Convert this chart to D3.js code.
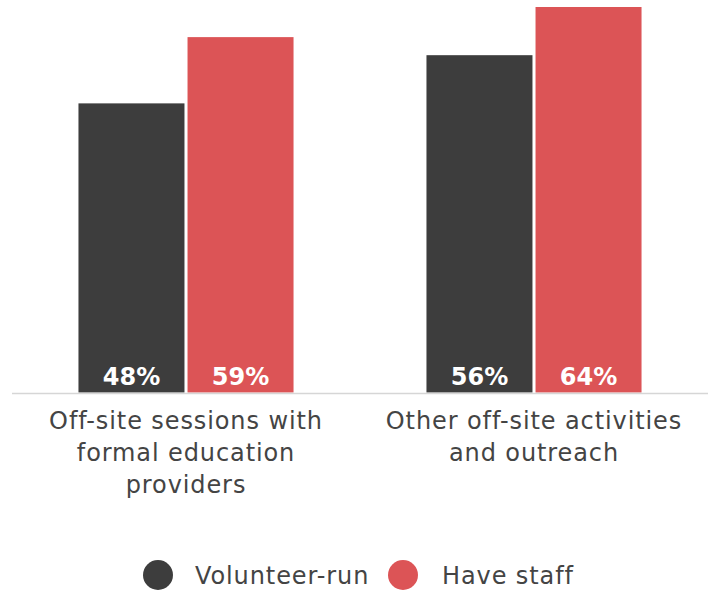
<!DOCTYPE html>
<html>
<head>
<meta charset="utf-8">
<script src="https://cdn.jsdelivr.net/npm/d3@7"></script>
<style>
  html, body { margin: 0; padding: 0; background: #fff; }
  svg { display: block; }
  text { font-family: "DejaVu Sans", sans-serif; }
</style>
</head>
<body>
<svg id="chart" width="714" height="590"></svg>
<script>
// Off-site activity by organisation type (share of respondents, %)
const categories = [
  ["Off-site sessions with", "formal education", "providers"],
  ["Other off-site activities", "and outreach"]
];
const seriesNames = ["Volunteer-run", "Have staff"];
const volunteerValues = [48, 56];
const staffValues = [59, 64];
const seriesColors = ["#3d3d3d", "#dc5456"];

const svg = d3.select("#chart");

const baseline = 392.5;
const x0 = d3.scaleBand()
  .domain(d3.range(categories.length))
  .range([12, 708])
  .paddingInner(0.382)
  .paddingOuter(0.191);
const x1 = d3.scaleBand()
  .domain(d3.range(seriesNames.length))
  .range([0, x0.bandwidth()])
  .paddingInner(0.028);
const y = d3.scaleLinear().domain([0, 64]).range([baseline, 7]);

const seriesValues = [volunteerValues, staffValues];
const rows = categories.map((c, i) => ({
  i, lines: c,
  vals: seriesValues.map((s, k) => ({ k, v: s[i] }))
}));

const groups = svg.selectAll("g.group").data(rows).join("g")
  .attr("class", "group")
  .attr("transform", d => `translate(${x0(d.i)},0)`);

groups.selectAll("rect").data(d => d.vals).join("rect")
  .attr("x", d => x1(d.k))
  .attr("width", x1.bandwidth())
  .attr("y", d => y(d.v))
  .attr("height", d => baseline - y(d.v))
  .attr("fill", d => seriesColors[d.k]);

groups.selectAll("text.val").data(d => d.vals).join("text")
  .attr("class", "val")
  .attr("x", d => x1(d.k) + x1.bandwidth() / 2)
  .attr("y", baseline - 7.5)
  .attr("text-anchor", "middle")
  .attr("fill", "#fff")
  .attr("font-weight", "bold")
  .attr("font-size", 24)
  .text(d => d.v + "%");

// baseline rule
svg.append("line")
  .attr("x1", 12).attr("x2", 708)
  .attr("y1", baseline + 1).attr("y2", baseline + 1)
  .attr("stroke", "#d6d6d6").attr("stroke-width", 1.6);

// category labels
groups.append("text")
  .attr("text-anchor", "middle")
  .attr("fill", "#444")
  .attr("font-size", 24)
  .attr("letter-spacing", 0.9)
  .selectAll("tspan").data(d => d.lines).join("tspan")
  .attr("x", x0.bandwidth() / 2)
  .attr("y", (d, j) => 428.5 + j * 32)
  .text(d => d);

// legend
const legendItems = [
  { name: seriesNames[0], cx: 158, tx: 195 },
  { name: seriesNames[1], cx: 403, tx: 442 }
];
const lg = svg.append("g");
lg.selectAll("circle").data(legendItems).join("circle")
  .attr("cx", d => d.cx).attr("cy", 575).attr("r", 15)
  .attr("fill", (d, i) => seriesColors[i]);
lg.selectAll("text").data(legendItems).join("text")
  .attr("x", d => d.tx).attr("y", 584)
  .attr("fill", "#444")
  .attr("font-size", 24)
  .attr("letter-spacing", 0.9)
  .text(d => d.name);
</script>
</body>
</html>
